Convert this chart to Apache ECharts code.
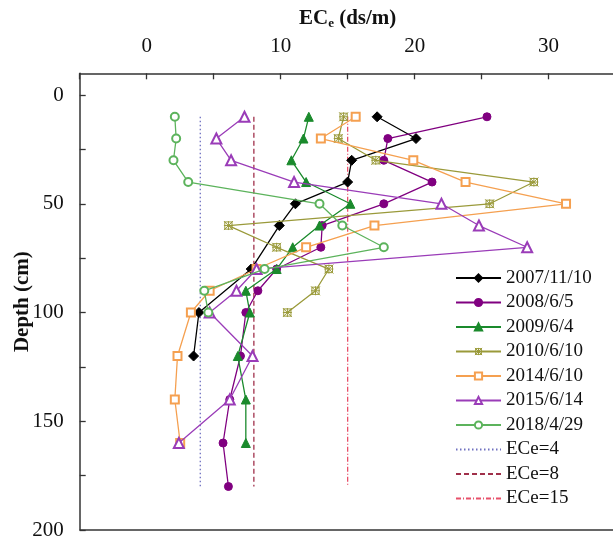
<!DOCTYPE html>
<html><head><meta charset="utf-8">
<script src="https://cdn.jsdelivr.net/npm/echarts@6/dist/echarts.min.js"></script>
<style>html,body{margin:0;padding:0;background:#fff}#c{width:613px;height:540px}</style>
</head><body><div id="c"></div>
<script>
var depths = [10,20,30,40,50,60,70,80,90,100,120,140,160,180];
var s2007 = [17.2,20.1,15.3,15.0,11.1,9.9,null,7.8,null,3.9,3.5,null,null,null];
var s2008 = [25.4,18.0,17.7,21.3,17.7,13.1,13.0,9.7,8.3,7.4,7.0,6.2,5.7,6.1];
var s2009 = [12.1,11.7,10.8,11.9,15.2,12.9,10.9,9.7,7.4,7.7,6.8,7.4,7.4,null];
var s2010 = [14.7,14.3,17.1,28.9,25.6,6.1,9.7,13.6,12.6,10.5,null,null,null,null];
var s2014 = [15.6,13.0,19.9,23.8,31.3,17.0,11.9,8.2,4.7,3.3,2.3,2.1,2.5,null];
var s2015 = [7.3,5.2,6.3,11.0,22.0,24.8,28.4,8.2,6.7,4.7,7.9,6.2,2.4,null];
var s2018 = [2.1,2.2,2.0,3.1,12.9,14.6,17.7,8.8,4.3,4.6,null,null,null,null];
var seriesNames = ['2007/11/10','2008/6/5','2009/6/4','2010/6/10','2014/6/10','2015/6/14','2018/4/29'];
var refNames = ['ECe=4','ECe=8','ECe=15'];
var refValues = [4,8,15];
var refDepths = [10,180];
var xTickLabels = [0,10,20,30];
var yTickLabels = [0,50,100,150,200];
var yTicks = [0,25,50,75,100,125,150,175,200];

function pairs(arr){
  var out=[];
  for(var i=0;i<arr.length;i++){ if(arr[i]!==null) out.push([arr[i],depths[i]]); }
  return out;
}
var FONT = '"Liberation Serif","Times New Roman",serif';
var star = 'path://M0,0L10,10M10,0L0,10M5,0L5,10M0,5L10,5M1,1L9,1L9,9L1,9Z';
var styles = [
  {c:'#000000', sym:'diamond', size:10},
  {c:'#800080', sym:'circle', size:8},
  {c:'#1a8a2c', sym:'triangle', size:9},
  {c:'#9a9a3a', sym:star, size:9, stroke:true},
  {c:'#f5a050', sym:'emptyRect', size:8},
  {c:'#9a3cb8', sym:'emptyTriangle', size:10},
  {c:'#5cb35c', sym:'emptyCircle', size:8}
];
var data = [s2007,s2008,s2009,s2010,s2014,s2015,s2018];
var series = [];
var refStyles = [
  {c:'#6f70c0', type:[1.5,2.5]},
  {c:'#a0304a', type:[5,3]},
  {c:'#e8506a', type:[5,2,1,2]}
];
for (var r=0;r<3;r++){
  series.push({
    name: refNames[r], type:'line', symbol:'none', z:1,
    data: refDepths.map(function(d){return [refValues[r], d];}),
    lineStyle:{color:refStyles[r].c, width:1.3, type:refStyles[r].type},
    itemStyle:{color:refStyles[r].c}
  });
}
for (var k=0;k<7;k++){
  var st = styles[k];
  var it = {color: st.c, borderColor: st.c, borderWidth: 1};
  if (st.stroke) it = {color: 'rgba(0,0,0,0)', borderColor: st.c, borderWidth: 1};
  if (st.sym.indexOf('empty')===0) it = {color: st.c, borderColor: st.c, borderWidth:1.2};
  series.push({
    name: seriesNames[k], type:'line', data: pairs(data[k]), connectNulls:true,
    symbol: st.sym, symbolSize: st.size, z:2+k,
    lineStyle:{color:st.c, width:1.3},
    itemStyle: it
  });
}
var legendData = seriesNames.map(function(n, i){
  if (styles[i].stroke) return {name:n, itemStyle:{color:'rgba(0,0,0,0)', borderColor:styles[i].c, borderWidth:1}};
  return {name:n};
}).concat(refNames.map(function(n){return {name:n, itemStyle:{opacity:0}};}));
var chart = echarts.init(document.getElementById('c'));
chart.setOption({
  animation:false,
  backgroundColor:'#fff',
  textStyle:{fontFamily:FONT},
  grid:{left:79.7, right:-2.6, top:73.3, bottom:10, outerBoundsMode:'none', containLabel:false},
  legend:{
    data: legendData, orient:'vertical', left:455, top:268, padding:0,
    itemWidth:45, itemHeight:9, itemGap:4.5,
    textStyle:{fontFamily:FONT, fontSize:19, color:'#111', lineHeight:20}
  },
  xAxis:{
    type:'value', position:'top', min:-5, max:35, interval:5,
    name:'EC{s|e} (ds/m)', nameLocation:'middle', nameGap:43, nameMoveOverlap:false,
    nameTextStyle:{fontFamily:FONT, fontSize:21, fontWeight:'bold', color:'#111',
      rich:{s:{fontFamily:FONT, fontSize:13, fontWeight:'bold', verticalAlign:'bottom', padding:[10,0,0,0], color:'#111'}}},
    axisLine:{show:true, onZero:false, lineStyle:{color:'#333', width:1.5}},
    axisTick:{show:true, inside:true, length:6, lineStyle:{color:'#333', width:1.3}},
    axisLabel:{show:true, margin:16, fontSize:21, color:'#111', fontFamily:FONT,
      customValues: xTickLabels},
    splitLine:{show:false}
  },
  yAxis:{
    type:'value', inverse:true, min:-10, max:200,
    name:'Depth (cm)', nameLocation:'middle', nameGap:47, nameMoveOverlap:false,
    nameTextStyle:{fontFamily:FONT, fontSize:21, fontWeight:'bold', color:'#111'},
    axisLine:{show:true, onZero:false, lineStyle:{color:'#333', width:1.5}},
    axisTick:{show:true, inside:true, length:6, lineStyle:{color:'#333', width:1.3}, customValues: yTicks},
    axisLabel:{show:true, margin:16, fontSize:21, color:'#111', fontFamily:FONT, customValues: yTickLabels},
    splitLine:{show:false}
  },
  graphic:[
    {type:'line', shape:{x1:79.7, y1:530, x2:613, y2:530}, style:{stroke:'#333', lineWidth:1.5}, z:10}
  ],
  series: series
});
</script>
</body></html>
